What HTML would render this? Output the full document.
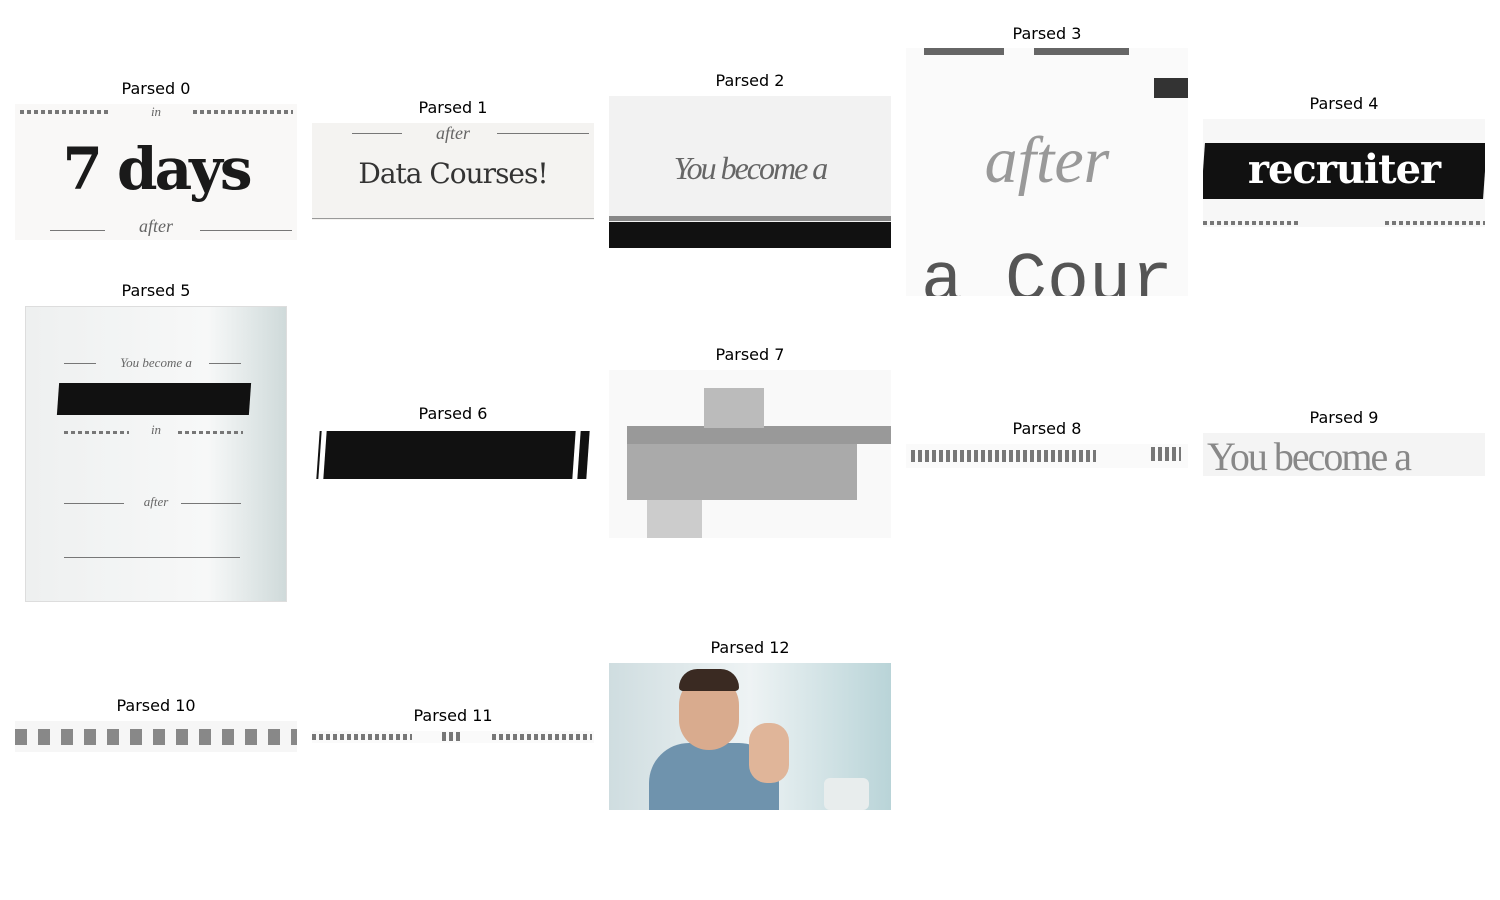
<!DOCTYPE html>
<html><head><meta charset="utf-8"><style>
body{margin:0;width:1500px;height:900px;background:#fff;position:relative;overflow:hidden;font-family:"DejaVu Sans","Liberation Sans",sans-serif}
.t{position:absolute;font-size:16px;color:#000;text-align:center;width:282px}
.im{position:absolute;overflow:hidden;background:#f7f7f7}
.ser{font-family:"Liberation Serif",serif;font-style:italic;color:#666;position:absolute;text-align:center;width:100%}
.mono{font-family:"Liberation Mono",monospace;font-weight:bold;color:#222;position:absolute;text-align:center;width:100%}
.dots{position:absolute;height:4px;background:repeating-linear-gradient(90deg,#777 0 4px,transparent 4px 7px)}
.line{position:absolute;height:1px;background:#777}
.blk{position:absolute;background:#111}
</style></head><body>

<div class="t" style="left:15px;top:79px">Parsed 0</div>
<div class="im" style="left:15px;top:104px;width:282px;height:136px;background:#f9f8f7">
 <div class="dots" style="left:5px;top:6px;width:90px"></div><div class="ser" style="top:0;font-size:13px">in</div><div class="dots" style="left:178px;top:6px;width:100px"></div>
 <div class="mono" style="top:30px;font-size:58px;line-height:70px;color:#1a1a1a;letter-spacing:-3px;font-family:'DejaVu Serif',serif">7 days</div>
 <div class="line" style="left:35px;top:126px;width:55px"></div><div class="ser" style="top:112px;font-size:18px">after</div><div class="line" style="left:185px;top:126px;width:92px"></div>
</div>

<div class="t" style="left:312px;top:98px">Parsed 1</div>
<div class="im" style="left:312px;top:123px;width:282px;height:97px;background:#f4f3f1">
 <div class="line" style="left:40px;top:10px;width:50px"></div><div class="ser" style="top:0;font-size:18px">after</div><div class="line" style="left:185px;top:10px;width:92px"></div>
 <div class="mono" style="top:34px;font-size:28px;color:#333;letter-spacing:-1px;font-family:'DejaVu Serif',serif;font-weight:normal">Data Courses!</div>
 <div class="line" style="left:0;top:95px;width:282px;background:#999"></div>
</div>

<div class="t" style="left:609px;top:71px">Parsed 2</div>
<div class="im" style="left:609px;top:96px;width:282px;height:152px;background:#f2f2f2">
 <div class="ser" style="top:54px;font-size:32px;color:#666;letter-spacing:-2px">You become a</div>
 <div class="blk" style="left:0;top:120px;width:282px;height:5px;background:#888"></div>
 <div class="blk" style="left:0;top:126px;width:282px;height:26px"></div>
</div>

<div class="t" style="left:906px;top:24px">Parsed 3</div>
<div class="im" style="left:906px;top:48px;width:282px;height:248px;background:#fafafa">
 <div class="blk" style="left:18px;top:0;width:80px;height:7px;background:#666"></div><div class="blk" style="left:128px;top:0;width:95px;height:7px;background:#666"></div>
 <div class="blk" style="left:248px;top:30px;width:34px;height:20px;background:#333"></div>
 <div class="ser" style="top:75px;font-size:66px;color:#999">after</div>
 <div class="mono" style="top:195px;font-size:70px;color:#555;font-weight:normal">a Cour</div>
</div>

<div class="t" style="left:1203px;top:94px">Parsed 4</div>
<div class="im" style="left:1203px;top:119px;width:282px;height:108px;background:#f7f7f7">
 <div class="blk" style="left:0;top:24px;width:282px;height:56px;transform:skewX(-4deg)"></div>
 <div class="mono" style="top:26px;font-size:40px;color:#fff;line-height:50px;font-family:'DejaVu Serif',serif;letter-spacing:-1px">recruiter</div>
 <div class="dots" style="left:0;top:102px;width:98px"></div><div class="dots" style="left:182px;top:102px;width:100px"></div>
</div>

<div class="t" style="left:15px;top:281px">Parsed 5</div>
<div class="im" style="left:25px;top:306px;width:262px;height:296px;background:linear-gradient(90deg,#eef0f0,#f7f8f8 70%,#cfdada);border:1px solid #ddd;box-sizing:border-box">
 <div class="line" style="left:38px;top:56px;width:32px"></div><div class="ser" style="top:48px;font-size:13px">You become a</div><div class="line" style="left:183px;top:56px;width:32px"></div>
 <div class="blk" style="left:32px;top:76px;width:192px;height:32px;transform:skewX(-4deg)"></div>
 <div class="dots" style="left:38px;top:124px;width:65px;height:3px"></div><div class="ser" style="top:115px;font-size:13px">in</div><div class="dots" style="left:152px;top:124px;width:65px;height:3px"></div>
 <div class="line" style="left:38px;top:196px;width:60px"></div><div class="ser" style="top:187px;font-size:13px">after</div><div class="line" style="left:155px;top:196px;width:60px"></div>
 <div class="line" style="left:38px;top:250px;width:176px"></div>
</div>

<div class="t" style="left:312px;top:404px">Parsed 6</div>
<div class="im" style="left:312px;top:429px;width:282px;height:52px;background:#fff">
 <div class="blk" style="left:6px;top:2px;width:270px;height:48px;transform:skewX(-4deg)"></div>
 <div class="blk" style="left:8px;top:2px;width:5px;height:48px;background:#fff;transform:skewX(-4deg)"></div>
 <div class="blk" style="left:262px;top:2px;width:5px;height:48px;background:#fff;transform:skewX(-4deg)"></div>
</div>

<div class="t" style="left:609px;top:345px">Parsed 7</div>
<div class="im" style="left:609px;top:370px;width:282px;height:168px;background:#f9f9f9">
 <div class="blk" style="left:18px;top:56px;width:264px;height:18px;background:#999"></div>
 <div class="blk" style="left:18px;top:74px;width:230px;height:56px;background:#aaa"></div>
 <div class="blk" style="left:95px;top:18px;width:60px;height:40px;background:#bbb"></div>
 <div class="blk" style="left:38px;top:130px;width:55px;height:38px;background:#ccc"></div>
</div>

<div class="t" style="left:906px;top:419px">Parsed 8</div>
<div class="im" style="left:906px;top:444px;width:282px;height:24px;background:#fafafa">
 <div class="dots" style="left:5px;top:6px;width:185px;height:12px"></div><div class="dots" style="left:245px;top:3px;width:30px;height:14px"></div>
</div>

<div class="t" style="left:1203px;top:408px">Parsed 9</div>
<div class="im" style="left:1203px;top:433px;width:282px;height:43px;background:#f4f4f4">
 <div class="ser" style="top:0;font-size:40px;color:#888;font-style:normal;text-align:left;left:4px;letter-spacing:-2px">You become a</div>
</div>

<div class="t" style="left:15px;top:696px">Parsed 10</div>
<div class="im" style="left:15px;top:721px;width:282px;height:31px;background:#f6f6f6">
 <div class="dots" style="left:0;top:8px;width:282px;height:16px;background:repeating-linear-gradient(90deg,#888 0 12px,transparent 12px 23px)"></div>
</div>

<div class="t" style="left:312px;top:706px">Parsed 11</div>
<div class="im" style="left:312px;top:731px;width:282px;height:12px;background:#fafafa">
 <div class="dots" style="left:0;top:3px;width:100px;height:6px"></div><div class="dots" style="left:130px;top:1px;width:20px;height:9px"></div><div class="dots" style="left:180px;top:3px;width:100px;height:6px"></div>
</div>

<div class="t" style="left:609px;top:638px">Parsed 12</div>
<div class="im" style="left:609px;top:663px;width:282px;height:147px;background:linear-gradient(90deg,#cfdde0,#eef3f4 50%,#b9d4d8)">
 <div class="blk" style="left:40px;top:80px;width:130px;height:67px;background:#6f93ad;border-radius:40px 40px 0 0"></div>
 <div class="blk" style="left:70px;top:12px;width:60px;height:75px;background:#d9ab8e;border-radius:30px"></div>
 <div class="blk" style="left:70px;top:6px;width:60px;height:22px;background:#3a2a22;border-radius:30px 30px 6px 6px"></div>
 <div class="blk" style="left:140px;top:60px;width:40px;height:60px;background:#e0b599;border-radius:18px"></div>
 <div class="blk" style="left:215px;top:115px;width:45px;height:32px;background:#e8eded;border-radius:6px"></div>
</div>

</body></html>
